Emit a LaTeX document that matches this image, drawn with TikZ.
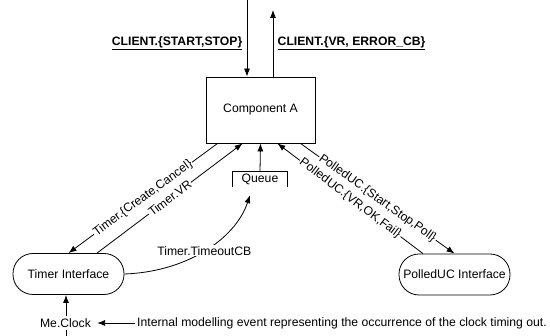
\documentclass[tikz,border=0pt]{standalone}
\usepackage{fontspec}
\setmainfont{Liberation Sans}
\usetikzlibrary{arrows.meta,calc}
\begin{document}
\begin{tikzpicture}[x=1pt,y=-1pt,
  every node/.style={font=\fontsize{12.2}{14}\selectfont, inner sep=1pt},
  line/.style={draw=black, line width=0.8pt},
  arr/.style={line, -{Latex[length=8pt,width=6pt]}},
  lbl/.style={fill=white, sloped, inner sep=1pt},
  stadium/.style={draw, rounded corners=20pt, minimum width=111pt, minimum height=41pt, line width=0.8pt},
  hdr/.style={font=\fontsize{12.2}{14}\selectfont\bfseries}
]
\useasboundingbox (0,0) rectangle (550,336);

% main nodes
\node[draw, line width=0.8pt, minimum width=109pt, minimum height=66pt, inner sep=0pt] (A) at (260.5,110) {Component A};
\node[stadium] (ti) at (68.5,274) {Timer Interface};
\node[stadium] (pi) at (454.5,274.5) {PolledUC Interface};
\node[inner sep=0pt, minimum width=54pt, minimum height=15pt] (q) at (260,179.5) {Queue};
\draw[line] (q.south west) -- (q.north west) -- (q.north east) -- (q.south east);

% client arrows
\coordinate (cin) at (247,0);
\coordinate (cout) at (273,10);
\draw[arr] (cin) -- (cin |- A.north);
\draw[arr] (cout |- A.north) -- (cout);
\node[hdr, anchor=east] (l1) at (243.5,43) {\underline{CLIENT.\{START,STOP\}}};
\node[hdr, anchor=west] (l2) at (276.5,43) {\underline{CLIENT.\{VR, ERROR\_CB\}}};

% connection points on Component A
\coordinate (a1) at ($(A.south west)+(12,0)$);
\coordinate (a2) at ($(A.south west)+(37,0)$);
\coordinate (a3) at ($(A.south east)+(-15,0)$);
\coordinate (a4) at ($(A.south east)+(-38,0)$);
\coordinate (t2) at ($(ti.north)+(28.5,0)$);
\coordinate (p4) at ($(pi.north)+(-31.5,0)$);

\draw[arr] (a1) -- node[lbl] {Timer.\{Create,Cancel\}} (ti.north);
\draw[arr] (t2) -- node[lbl] {Timer.VR} (a2);
\draw[arr] (a3) -- node[lbl] {PolledUC.\{Start,Stop,Poll\}} (pi.north);
\draw[arr] (p4) -- node[lbl] {PolledUC.\{VR,OK,Fail\}} (a4);
\draw[arr] (q.north) -- (A.south);

% timeout callback
\coordinate (qin) at ($(q.south)+(-10,8)$);
\draw[arr] (ti.east) .. controls (185,272) and (235,240) .. node[fill=white, inner sep=1pt] {Timer.TimeoutCB} (qin);

% clock
\coordinate (cb) at (66,336);
\draw[arr] (cb) -- (cb |- ti.south);
\node[fill=white, inner sep=3pt] (clk) at (65.5,323) {Me.Clock};
\node[anchor=west, inner sep=2pt] (int) at (135,323) {Internal modelling event representing the occurrence of the clock timing out.};
\draw[arr] (int.west) -- ($(clk.east)+(3,0)$);
\end{tikzpicture}
\end{document}
